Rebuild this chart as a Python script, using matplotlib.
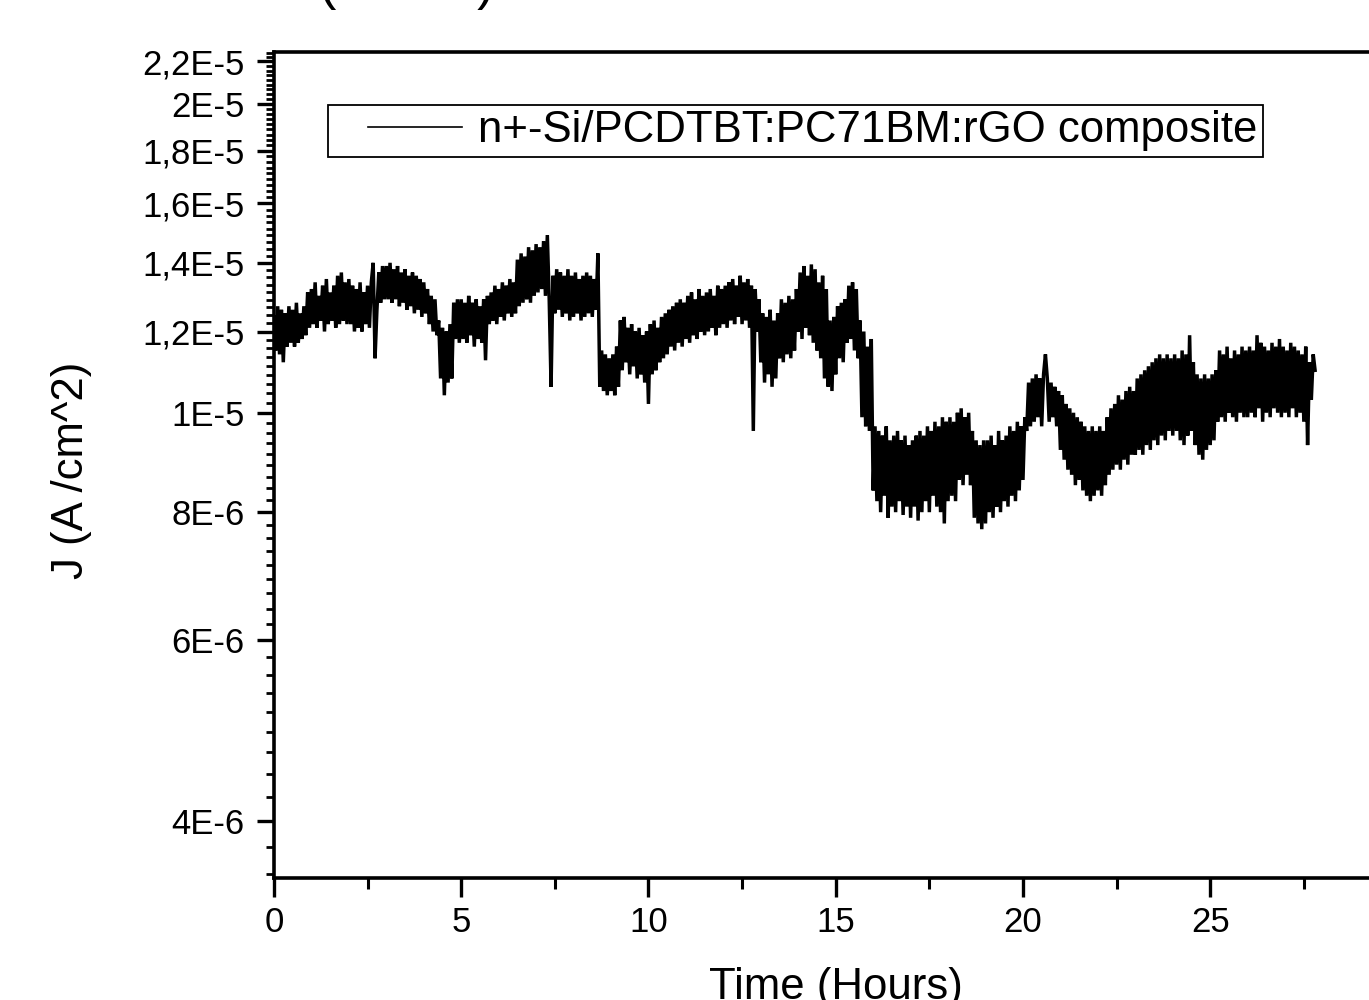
import numpy as np
import matplotlib
matplotlib.use('Agg')
import matplotlib.pyplot as plt
from matplotlib.ticker import FixedLocator, FixedFormatter, MultipleLocator, NullFormatter
from matplotlib.legend_handler import HandlerLine2D

plt.rcParams['font.family'] = ['Liberation Sans', 'DejaVu Sans']

# current density, in units of 1E-6 A/cm^2, one value every 0.05 h
step_h = 0.05
j_micro = [
    # 0-1 h
    12.4, 11.5, 12.7, 11.4, 12.6, 11.2, 12.5, 11.6, 12.7, 11.7, 12.6, 11.6, 12.8, 11.7, 12.5, 11.8, 12.7, 11.9, 13.1, 12.1,
    # 1-2 h
    13.2, 12.2, 13.4, 12.1, 13.0, 12.3, 13.3, 12.0, 13.5, 12.2, 13.1, 12.3, 13.3, 12.1, 13.6, 12.2, 13.7, 12.3, 13.4, 12.2,
    # 2-3 h
    13.5, 12.2, 13.3, 12.0, 13.2, 12.1, 13.4, 12.0, 13.1, 12.2, 13.3, 12.1, 13.4, 14.0, 11.3, 12.6, 13.7, 12.8, 13.9, 12.9,
    # 3-4 h
    13.9, 12.9, 14.0, 12.8, 13.8, 12.9, 13.9, 12.7, 13.7, 12.8, 13.8, 12.6, 13.6, 12.7, 13.7, 12.5, 13.6, 12.6, 13.5, 12.4,
    # 4-5 h
    13.4, 12.5, 13.2, 12.2, 13.0, 12.0, 12.9, 11.9, 12.3, 10.8, 12.1, 10.4, 12.0, 10.7, 12.2, 10.8, 12.8, 11.8, 12.9, 11.7,
    # 5-6 h
    12.9, 11.8, 12.8, 11.7, 13.0, 11.9, 12.8, 11.6, 12.9, 11.8, 12.7, 11.7, 12.9, 11.25, 13.0, 12.2, 13.1, 12.3, 13.3, 12.2,
    # 6-7 h
    13.2, 12.4, 13.4, 12.3, 13.3, 12.5, 13.5, 12.4, 13.4, 12.5, 14.1, 12.7, 14.3, 12.8, 14.2, 12.9, 14.5, 12.8, 14.4, 13.0,
    # 7-8 h
    14.6, 13.1, 14.5, 13.2, 14.7, 13.0, 14.9, 12.9, 10.6, 13.6, 12.5, 13.8, 12.6, 13.7, 12.4, 13.6, 12.5, 13.8, 12.3, 13.6,
    # 8-9 h
    12.4, 13.7, 12.5, 13.5, 12.3, 13.6, 12.4, 13.7, 12.5, 13.6, 12.4, 13.5, 12.6, 14.3, 10.6, 11.5, 10.5, 11.4, 10.4, 11.3,
    # 9-10 h
    10.5, 11.4, 10.4, 11.6, 10.6, 12.3, 11.0, 12.4, 11.2, 12.1, 10.9, 12.2, 11.1, 12.0, 10.8, 12.1, 10.9, 11.9, 10.7, 12.0,
    # 10-11 h
    10.2, 12.2, 10.9, 12.3, 11.0, 12.1, 11.2, 12.4, 11.3, 12.5, 11.4, 12.6, 11.6, 12.7, 11.5, 12.8, 11.7, 12.9, 11.6, 12.8,
    # 11-12 h
    11.8, 13.0, 11.7, 13.1, 11.9, 12.9, 11.8, 13.2, 12.0, 13.0, 11.9, 13.1, 12.0, 13.2, 12.1, 13.0, 11.9, 13.3, 12.1, 13.2,
    # 12-13 h
    12.2, 13.3, 12.1, 13.4, 12.3, 13.5, 12.2, 13.3, 12.4, 13.6, 12.2, 13.4, 12.3, 13.5, 12.1, 13.3, 9.6, 13.2, 12.0, 12.9,
    # 13-14 h
    11.2, 12.5, 10.7, 12.4, 10.9, 12.6, 10.6, 12.3, 10.8, 12.5, 11.3, 12.9, 11.2, 12.8, 11.4, 13.0, 11.3, 12.9, 11.5, 13.2,
    # 14-15 h
    12.0, 13.7, 11.8, 13.9, 12.1, 13.6, 11.9, 13.95, 11.7, 13.8, 11.5, 13.4, 11.3, 13.6, 10.8, 13.2, 10.6, 12.3, 10.5, 12.4,
    # 15-16 h
    10.9, 12.7, 11.3, 12.8, 11.2, 12.9, 11.7, 13.3, 11.8, 13.4, 11.5, 13.2, 11.3, 12.3, 9.9, 12.0, 9.7, 11.6, 9.6, 11.8,
    # 16-17 h
    8.4, 9.7, 8.2, 9.6, 8.0, 9.5, 8.3, 9.7, 7.9, 9.4, 8.1, 9.5, 8.0, 9.6, 8.2, 9.4, 7.95, 9.5, 8.1, 9.3,
    # 17-18 h
    7.9, 9.4, 8.1, 9.5, 7.85, 9.6, 8.0, 9.5, 8.2, 9.7, 8.0, 9.6, 8.3, 9.8, 8.1, 9.7, 8.0, 9.9, 7.8, 9.8,
    # 18-19 h
    8.2, 9.9, 8.3, 9.8, 8.2, 10.0, 8.6, 10.1, 8.5, 9.9, 8.7, 10.0, 8.5, 9.6, 7.9, 9.4, 7.8, 9.3, 7.7, 9.4,
    # 19-20 h
    7.8, 9.4, 8.0, 9.5, 7.9, 9.3, 8.1, 9.6, 8.0, 9.4, 8.2, 9.5, 8.1, 9.7, 8.3, 9.6, 8.2, 9.8, 8.4, 9.7,
    # 20-21 h
    8.6, 9.9, 9.6, 10.7, 9.7, 10.8, 9.8, 10.9, 9.9, 10.8, 9.7, 10.9, 11.4, 10.8, 9.8, 10.7, 9.9, 10.6, 9.7, 10.5,
    # 21-22 h
    9.2, 10.4, 9.0, 10.2, 8.8, 10.1, 8.7, 10.0, 8.5, 9.9, 8.6, 9.8, 8.4, 9.7, 8.3, 9.6, 8.2, 9.7, 8.3, 9.6,
    # 22-23 h
    8.4, 9.7, 8.3, 9.6, 8.5, 9.9, 8.7, 10.1, 8.8, 10.2, 8.9, 10.4, 8.8, 10.3, 9.0, 10.5, 8.9, 10.6, 9.1, 10.5,
    # 23-24 h
    9.1, 10.8, 9.2, 10.9, 9.1, 11.0, 9.3, 11.1, 9.2, 11.2, 9.4, 11.3, 9.3, 11.4, 9.5, 11.3, 9.4, 11.4, 9.6, 11.3,
    # 24-25 h
    9.5, 11.4, 9.6, 11.3, 9.4, 11.5, 9.3, 11.4, 9.5, 11.9, 9.6, 11.2, 9.3, 10.9, 9.1, 10.8, 9.0, 10.9, 9.2, 10.8,
    # 25-26 h
    9.3, 10.9, 9.4, 11.0, 9.8, 11.5, 9.9, 11.4, 9.8, 11.6, 10.0, 11.3, 9.9, 11.5, 9.8, 11.4, 10.0, 11.6, 9.9, 11.5,
    # 26-27 h
    9.9, 11.6, 10.0, 11.5, 9.9, 11.9, 10.1, 11.7, 9.8, 11.6, 10.0, 11.5, 9.9, 11.7, 10.1, 11.6, 10.0, 11.8, 9.9, 11.6,
    # 27-27.8 h
    10.0, 11.5, 9.9, 11.7, 10.1, 11.6, 9.9, 11.5, 10.0, 11.4, 9.8, 11.6, 9.3, 11.2, 10.3, 11.4, 11.0,
]

y_ticks = [2.2e-5, 2e-5, 1.8e-5, 1.6e-5, 1.4e-5, 1.2e-5, 1e-5, 8e-6, 6e-6, 4e-6]
y_labels = ['2,2E-5', '2E-5', '1,8E-5', '1,6E-5', '1,4E-5', '1,2E-5', '1E-5', '8E-6', '6E-6', '4E-6']
x_ticks = [0, 5, 10, 15, 20, 25]
legend_label = 'n+-Si/PCDTBT:PC71BM:rGO composite'

hours = np.arange(len(j_micro)) * step_h
j = np.array(j_micro) * 1e-6


class ShortLineHandler(HandlerLine2D):
    # Origin draws the legend line a bit inset from the frame
    def create_artists(self, legend, orig_handle, xdescent, ydescent, width, height, fontsize, trans):
        arts = super().create_artists(legend, orig_handle, xdescent, ydescent, width, height, fontsize, trans)
        for a in arts:
            xd = np.asarray(a.get_xdata(), dtype=float)
            if len(xd) > 1:
                a.set_xdata(np.linspace(xd[0] + 0.27 * width, xd[-1], len(xd)))
                a.set_linewidth(1.2)
        return arts


fig = plt.figure(figsize=(13.69, 10), dpi=100)
ax = fig.add_axes([0.2001, 0.122, 0.8207, 0.826])

line, = ax.plot(hours, j, color='black', lw=2.5, solid_joinstyle='miter', label=legend_label)

ax.set_yscale('log')
ax.set_ylim(3.52e-6, 2.247e-5)
ax.set_xlim(0, 30)

# minor ticks: 8 between each pair of major ticks (linear step 2E-6/9)
minor = [4e-6 + k * 2e-6 / 9 for k in range(-3, 85) if k % 9 != 0]
ax.yaxis.set_major_locator(FixedLocator(y_ticks))
ax.yaxis.set_major_formatter(FixedFormatter(y_labels))
ax.yaxis.set_minor_locator(FixedLocator(minor))
ax.yaxis.set_minor_formatter(NullFormatter())

ax.xaxis.set_major_locator(FixedLocator(x_ticks))
ax.xaxis.set_minor_locator(MultipleLocator(2.5))

for s in ax.spines.values():
    s.set_linewidth(2.6)

ax.tick_params(axis='y', which='major', direction='out', length=12, width=2.4, labelsize=25, pad=9)
ax.tick_params(axis='y', which='minor', direction='out', length=5.5, width=2.0)
ax.tick_params(axis='x', which='major', direction='out', length=13.5, width=2.4, labelsize=25, pad=7)
ax.tick_params(axis='x', which='minor', direction='out', length=8, width=2.2)

ax.set_ylabel('J (A /cm^2)', fontsize=31.5)
ax.yaxis.set_label_coords(-0.162, 0.494)
ax.set_xlabel('Time (Hours)', fontsize=31.5)
ax.xaxis.set_label_coords(0.5, -0.108)

leg = ax.legend(handles=[line], loc='upper left',
                bbox_to_anchor=(328 / 1369, 1 - 105 / 1000), bbox_transform=fig.transFigure,
                borderaxespad=0, borderpad=0.12, handlelength=2.95, handletextpad=0.37,
                fontsize=31.5, fancybox=False, framealpha=1, edgecolor='black',
                handler_map={line: ShortLineHandler()})
leg.get_frame().set_linewidth(1.3)

# label of the chart above, cut off by the crop
fig.text(189 / 1369, 1.001, 'Time (Hours)', fontsize=38, ha='left', va='baseline')

fig.savefig('out.png', dpi=100)
